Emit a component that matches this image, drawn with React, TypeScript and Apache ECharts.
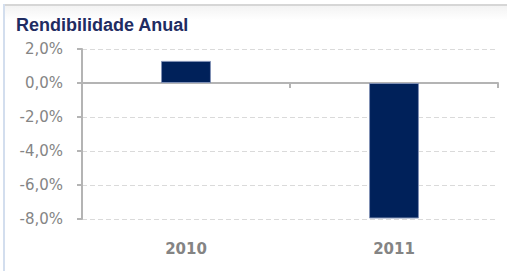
import React, { useEffect, useRef } from "react";
import * as echarts from "echarts";

const categories = ["2010", "2011"];
const values = [1.3, -7.97];
const yMin = -8;
const yMax = 2;
const yInterval = 2;
const title = "Rendibilidade Anual";

function fmt(v: number): string {
  return v.toFixed(1).replace(".", ",") + "%";
}

export default function App() {
  const ref = useRef<HTMLDivElement>(null);
  useEffect(() => {
    if (!ref.current) return;
    const chart = echarts.init(ref.current, undefined, { renderer: "svg" });
    chart.setOption({
      animation: false,
      backgroundColor: "#ffffff",
      title: {
        text: title,
        left: 11,
        top: 11,
        textStyle: {
          fontFamily: "Liberation Sans",
          fontSize: 18,
          fontWeight: "bold",
          color: "#1f2c62",
        },
      },
      graphic: [
        {
          type: "rect",
          shape: { x: 4, y: 6, width: 503, height: 14 },
          style: {
            fill: new echarts.graphic.LinearGradient(0, 0, 0, 1, [
              { offset: 0, color: "#f3f3f3" },
              { offset: 1, color: "#ffffff" },
            ]),
          },
          z: -1,
        },
        {
          type: "rect",
          shape: { x: 4, y: 4, width: 503, height: 2 },
          style: { fill: "#d6d6d6" },
        },
        {
          type: "rect",
          shape: { x: 3, y: 4, width: 2, height: 267 },
          style: { fill: "#d3deee" },
        },
      ],
      grid: { left: 82, right: 9, top: 49, bottom: 52 },
      xAxis: [
        {
          type: "category",
          data: categories,
          position: "bottom",
          axisLine: { show: false, onZero: false },
          axisTick: { show: false },
          axisLabel: {
            margin: 22,
            fontFamily: "DejaVu Sans",
            fontSize: 15,
            fontWeight: "bold",
            color: "#848484",
          },
        },
        {
          type: "category",
          data: categories,
          position: "top",
          axisLine: { show: true, onZero: true, lineStyle: { color: "#b4b4b4", width: 2 } },
          axisTick: { show: true, inside: true, length: 5, lineStyle: { color: "#b4b4b4", width: 2 } },
          axisLabel: { show: false },
        },
      ],
      yAxis: {
        type: "value",
        min: yMin,
        max: yMax,
        interval: yInterval,
        axisLine: { show: true, lineStyle: { color: "#b4b4b4", width: 2 } },
        axisTick: { show: true, length: 5, lineStyle: { color: "#b4b4b4", width: 2 } },
        splitLine: { show: true, lineStyle: { color: "#dadada", type: [5, 3], width: 1 } },
        axisLabel: {
          margin: 19,
          fontFamily: "DejaVu Sans",
          fontSize: 15,
          color: "#858585",
          formatter: (v: number) => fmt(v),
        },
      },
      series: [
        {
          type: "bar",
          xAxisIndex: 1,
          data: values,
          barWidth: "24%",
          itemStyle: { color: "#00215a", borderColor: "#8090b4", borderWidth: 1 },
        },
      ],
    });
    return () => chart.dispose();
  }, []);
  return (
    <div
      ref={ref}
      style={{ position: "absolute", left: 0, top: 0, width: 507, height: 271 }}
    />
  );
}
